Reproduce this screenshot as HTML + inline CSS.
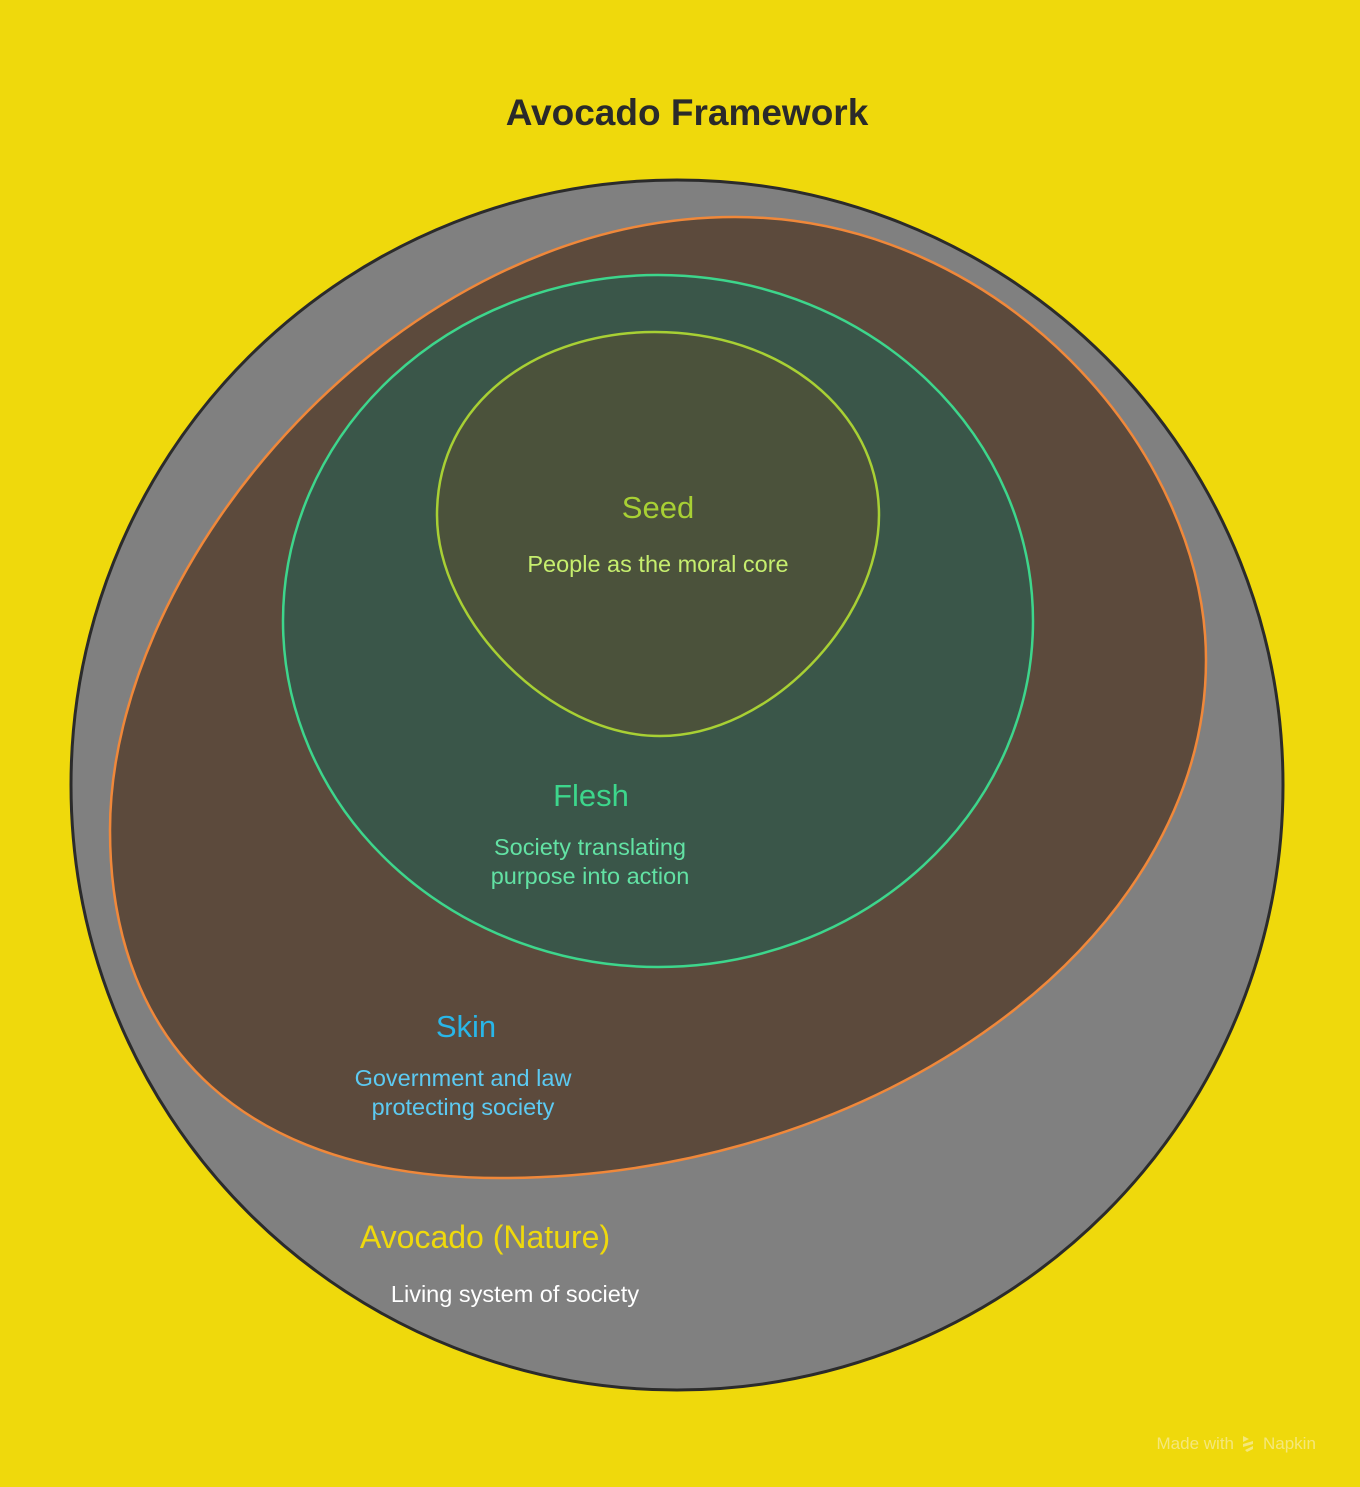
<!DOCTYPE html>
<html><head><meta charset="utf-8"><style>
html,body{margin:0;padding:0;background:#efd90c;}
svg{display:block;font-family:"Liberation Sans",sans-serif;}
</style></head><body>
<svg width="1360" height="1487" viewBox="0 0 1360 1487" xmlns="http://www.w3.org/2000/svg">
<rect width="1360" height="1487" fill="#efd90c"/>
<text x="687" y="125" text-anchor="middle" font-size="37" font-weight="bold" fill="#2a2a2a">Avocado Framework</text>
<ellipse cx="677" cy="785" rx="606" ry="605" fill="#808080" stroke="#2b2b2b" stroke-width="3"/>
<path d="M 110 830 C 110 560, 400 217, 735 217 C 1000 217, 1206 450, 1206 660 C 1206 940, 880 1178, 500 1178 C 250 1178, 110 1050, 110 830 Z" fill="#5c4a3c" stroke="#f0883a" stroke-width="2.5"/>
<ellipse cx="658" cy="621" rx="375" ry="346" fill="#3a5649" stroke="#3dd68c" stroke-width="2.5"/>
<path d="M 437 515 C 437 400, 540 332, 655 332 C 780 332, 879 410, 879 515 C 879 620, 770 736, 660 736 C 550 736, 437 620, 437 515 Z" fill="#4b523b" stroke="#a8d034" stroke-width="2.5"/>
<text x="658" y="518" text-anchor="middle" font-size="31" fill="#a8d034">Seed</text>
<text x="658" y="572" text-anchor="middle" font-size="23.5" fill="#c6ee6e">People as the moral core</text>
<text x="591" y="806" text-anchor="middle" font-size="31" fill="#3dd68c">Flesh</text>
<text x="590" y="855" text-anchor="middle" font-size="23.5" fill="#62e2a4">Society translating</text>
<text x="590" y="884" text-anchor="middle" font-size="23.5" fill="#62e2a4">purpose into action</text>
<text x="466" y="1037" text-anchor="middle" font-size="31" fill="#29b6e8">Skin</text>
<text x="463" y="1086" text-anchor="middle" font-size="23.5" fill="#5ccaf2">Government and law</text>
<text x="463" y="1115" text-anchor="middle" font-size="23.5" fill="#5ccaf2">protecting society</text>
<text x="485" y="1248" text-anchor="middle" font-size="32" fill="#efd90c">Avocado (Nature)</text>
<text x="515" y="1302" text-anchor="middle" font-size="23.5" fill="#ffffff">Living system of society</text>
<text x="1234" y="1449" text-anchor="end" font-size="17" fill="#f5e77a">Made with</text>
<g fill="#f5e77a"><path d="M1243 1436 l6 3 l-6 3 z M1243 1444 l10 -3 l0 3 l-10 3 z M1245 1450 l8 -4 l0 3 l-6 3 z"/></g>
<text x="1263" y="1449" font-size="17" fill="#f5e77a">Napkin</text>
</svg>
</body></html>
